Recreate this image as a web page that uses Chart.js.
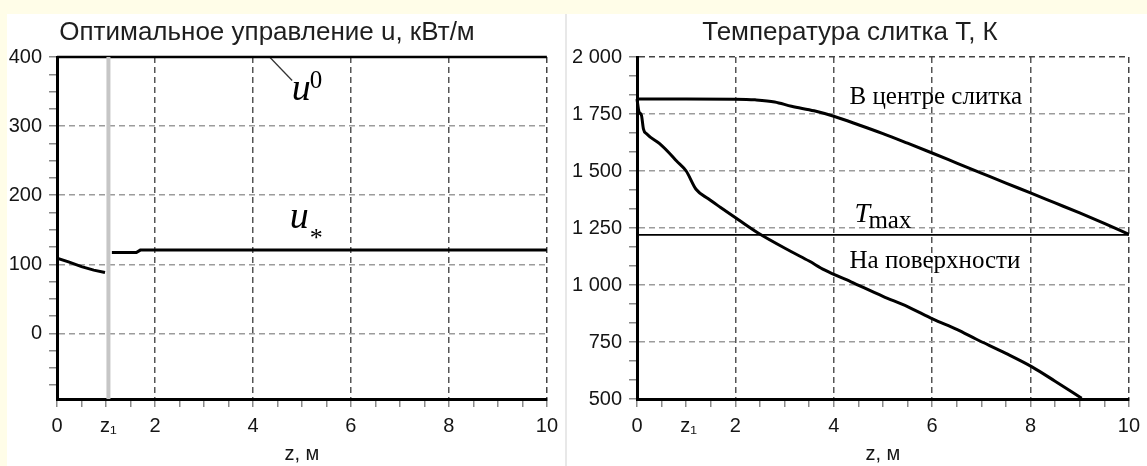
<!DOCTYPE html>
<html>
<head>
<meta charset="utf-8">
<script src="https://cdn.jsdelivr.net/npm/chart.js@4.4.1/dist/chart.umd.min.js"></script>
<style>
  html, body { margin: 0; padding: 0; }
  body { width: 1147px; height: 466px; background: #fffde8; position: relative; overflow: hidden; }
  .panel { position: absolute; top: 14px; height: 452px; background: #fff; }
  #pl { left: 7px; width: 558px; }
  #pr { left: 567px; width: 580px; }
  #sep { position: absolute; left: 565px; top: 14px; width: 2px; height: 452px; background: #e8e8e8; }
  canvas { display: block; }
</style>
</head>
<body>
<div class="panel" id="pl"><canvas id="cu" width="558" height="452"></canvas></div>
<div id="sep"></div>
<div class="panel" id="pr"><canvas id="ct" width="580" height="452"></canvas></div>
<script>
// ---- shared x axis (length along the ingot) ----
const z1 = 1.05;
const xMajor = [0, 2, 4, 6, 8, 10];
const xTickLabels = ['0', '2', '4', '6', '8', '10'];
const z1Label = 'z\u2081';
const xTitle = 'z, м';

// ---- left panel: optimal control ----
const uTitle = 'Оптимальное управление u, кВт/м';
const uMin = -95, uMax = 400;
const uMajor = [0, 100, 200, 300, 400];
const uTickLabels = ['0', '100', '200', '300', '400'];
const uUpper = [[0, 400], [10, 400]];
const uBefore = [[0, 109], [0.25, 103], [0.5, 96.5], [0.75, 91.5], [0.98, 88]];
const uAfter = [[1.12, 117], [1.62, 117], [1.7, 120.5], [10, 120.5]];
const uLeader = [[4.34, 400], [4.8, 366]];

// ---- right panel: ingot temperature ----
const tTitle = 'Температура слитка Т, К';
const tMin = 500, tMax = 2000;
const tMajor = [500, 750, 1000, 1250, 1500, 1750, 2000];
const tTickLabels = ['500', '750', '1 000', '1 250', '1 500', '1 750', '2 000'];
const tLimit = 1220;
const tCenter = [[0, 1816], [1, 1816], [2, 1815], [2.4, 1812], [2.8, 1803], [3.14, 1784],
  [3.6, 1764], [4, 1740], [4.5, 1703], [5, 1664], [5.5, 1622], [6, 1579], [6.5, 1535],
  [7, 1491], [7.5, 1447], [8, 1404], [8.5, 1360], [9, 1316], [9.5, 1270], [10, 1222]];
const tSurface = [[0, 1816], [0.04, 1760], [0.09, 1745], [0.13, 1685], [0.2, 1662], [0.46, 1620],
  [0.66, 1578], [0.8, 1545], [1.0, 1500], [1.2, 1420], [1.45, 1378], [1.7, 1340], [2.07, 1285],
  [2.47, 1227], [3.14, 1146], [3.5, 1105], [3.81, 1066], [4.35, 1014], [5.0, 950], [5.5, 905],
  [6.02, 850], [6.5, 805], [6.9, 762], [7.5, 700], [8.03, 641], [8.5, 578], [9.04, 503]];

const SANS = '"Liberation Sans", Arial, sans-serif';
const SERIF = '"Liberation Serif", "Times New Roman", serif';
const INK = '#151515';
Chart.defaults.font.family = SANS;

const pts = a => a.map(p => ({ x: p[0], y: p[1] }));
const NONE = 'rgba(0,0,0,0)';

// x ticks: majors, half-unit minors and the z1 mark
function xTickValues() {
  const v = [];
  for (let k = 0; k <= 20; k++) v.push(k * 0.5);
  v.push(z1);
  return v.sort((a, b) => a - b);
}
function xScale() {
  return {
    type: 'linear', min: 0, max: 10,
    afterBuildTicks: s => { s.ticks = xTickValues().map(v => ({ value: v })); },
    afterFit: s => { s.height = 67; },
    ticks: {
      autoSkip: false, maxRotation: 0, minRotation: 0, padding: 7,
      font: { size: 20 }, color: INK,
      callback: v => {
        if (v === z1) return z1Label;
        const i = xMajor.indexOf(v);
        return i >= 0 ? xTickLabels[i] : '';
      }
    },
    grid: {
      lineWidth: 1.5,
      color: c => {
        const v = c.tick && c.tick.value;
        if (v === 10) return '#444';
        return (v > 0 && v < 10 && xMajor.includes(v)) ? '#555' : NONE;
      },
      tickLength: 8, tickWidth: 1.5,
      tickColor: c => (c.tick && c.tick.value === z1) ? NONE : '#8a8a8a'
    },
    border: { display: true, color: '#000', width: 3, dash: [6, 4] },
    title: { display: true, text: xTitle, font: { size: 20 }, color: INK, padding: { top: 0, bottom: 0 } }
  };
}

// text drawn on top of the plot; anchors in data units or canvas pixels
function textLayer(id, items) {
  return {
    id,
    afterDatasetsDraw(chart) {
      const { ctx, scales } = chart;
      ctx.save();
      ctx.textBaseline = 'alphabetic';
      items.forEach(it => {
        ctx.font = it.font;
        ctx.fillStyle = it.color || '#000';
        ctx.textAlign = it.align || 'left';
        const px = it.px !== undefined ? it.px : scales.x.getPixelForValue(it.x) + (it.dx || 0);
        const py = it.py !== undefined ? it.py : scales.y.getPixelForValue(it.y) + (it.dy || 0);
        ctx.fillText(it.text, px, py);
      });
      ctx.restore();
    }
  };
}

const baseOptions = {
  responsive: false, animation: false,
  elements: { point: { radius: 0, hoverRadius: 0 }, line: { tension: 0, borderCapStyle: 'butt' } },
  plugins: { legend: { display: false }, tooltip: { enabled: false } },
  events: []
};

// ---------- left chart ----------
const uTicks = [];
for (let v = -75; v <= uMax; v += 25) uTicks.push(v);

new Chart(document.getElementById('cu'), {
  type: 'line',
  data: {
    datasets: [
      { data: pts([[z1, uMin], [z1, uMax]]), borderColor: '#c6c6c6', borderWidth: 4, order: 0, clip: false },
      { data: pts(uUpper), borderColor: '#000', borderWidth: 2.5, order: 1, clip: false },
      { data: pts(uBefore), borderColor: '#000', borderWidth: 3, order: 1 },
      { data: pts(uAfter), borderColor: '#000', borderWidth: 3, order: 1 },
      { data: pts(uLeader), borderColor: '#333', borderWidth: 1.3, order: 1 }
    ]
  },
  options: Object.assign({}, baseOptions, {
    layout: { padding: { top: 43, right: 17, left: 0, bottom: 0 } },
    scales: {
      x: xScale(),
      y: {
        type: 'linear', min: uMin, max: uMax,
        afterBuildTicks: s => { s.ticks = uTicks.map(v => ({ value: v })); },
        afterFit: s => { s.width = 50; },
        ticks: {
          autoSkip: false, padding: 7, font: { size: 20 }, color: INK,
          callback: v => { const i = uMajor.indexOf(v); return i >= 0 ? uTickLabels[i] : ''; }
        },
        grid: {
          lineWidth: 1.5,
          color: c => {
            const v = c.tick && c.tick.value;
            return (uMajor.includes(v) && v !== uMax) ? '#9c9c9c' : NONE;
          },
          tickLength: 8, tickWidth: 1.5, tickColor: '#8a8a8a'
        },
        border: { display: true, color: '#000', width: 3, dash: [6, 4] }
      }
    }
  }),
  plugins: [textLayer('uText', [
    { text: uTitle, font: '26px ' + SANS, color: '#1e1e1e', align: 'center', px: 260, py: 26 },
    { text: 'u', font: 'italic 38px ' + SERIF, x: 4.79, y: 337.7 },
    { text: '0', font: '25px ' + SERIF, x: 4.79, y: 337.7, dx: 18, dy: -12 },
    { text: 'u', font: 'italic 38px ' + SERIF, x: 4.75, y: 152.2 },
    { text: '*', font: '26px ' + SERIF, x: 4.75, y: 152.2, dx: 20, dy: 18 }
  ])]
});

// ---------- right chart ----------
const tTicks = [];
tMajor.forEach((v, i) => {
  tTicks.push(v);
  if (i < tMajor.length - 1) {
    const step = (tMajor[i + 1] - v) / 3;
    tTicks.push(v + step, v + 2 * step);
  }
});

new Chart(document.getElementById('ct'), {
  type: 'line',
  data: {
    datasets: [
      { data: pts([[0, tLimit], [10, tLimit]]), borderColor: '#000', borderWidth: 1.6, order: 1 },
      { data: pts(tCenter), borderColor: '#000', borderWidth: 3, cubicInterpolationMode: 'monotone', order: 0, clip: false },
      { data: pts(tSurface), borderColor: '#000', borderWidth: 3, cubicInterpolationMode: 'monotone', order: 0, clip: false }
    ]
  },
  options: Object.assign({}, baseOptions, {
    layout: { padding: { top: 43, right: 12, left: 0, bottom: 0 } },
    scales: {
      x: xScale(),
      y: {
        type: 'linear', min: tMin, max: tMax,
        afterBuildTicks: s => { s.ticks = tTicks.map(v => ({ value: v })); },
        afterFit: s => { s.width = 70; },
        ticks: {
          autoSkip: false, padding: 7, font: { size: 20 }, color: INK,
          callback: v => { const i = tMajor.indexOf(v); return i >= 0 ? tTickLabels[i] : ''; }
        },
        grid: {
          lineWidth: 1.5,
          color: c => {
            const v = c.tick && c.tick.value;
            if (v === tMax) return '#444';
            return (tMajor.includes(v) && v !== tMin) ? '#9c9c9c' : NONE;
          },
          tickLength: 8, tickWidth: 1.5, tickColor: '#8a8a8a'
        },
        border: { display: true, color: '#000', width: 3, dash: [6, 4] }
      }
    }
  }),
  plugins: [textLayer('tText', [
    { text: tTitle, font: '26px ' + SANS, color: '#1e1e1e', align: 'center', px: 283, py: 26 },
    { text: 'В центре слитка', font: '25px ' + SERIF, x: 4.32, y: 1794 },
    { text: 'T', font: 'italic 28px ' + SERIF, x: 4.42, y: 1277 },
    { text: 'max', font: '25px ' + SERIF, x: 4.42, y: 1277, dx: 14, dy: 6 },
    { text: 'На поверхности', font: '25px ' + SERIF, x: 4.32, y: 1075 }
  ])]
});
</script>
</body>
</html>
